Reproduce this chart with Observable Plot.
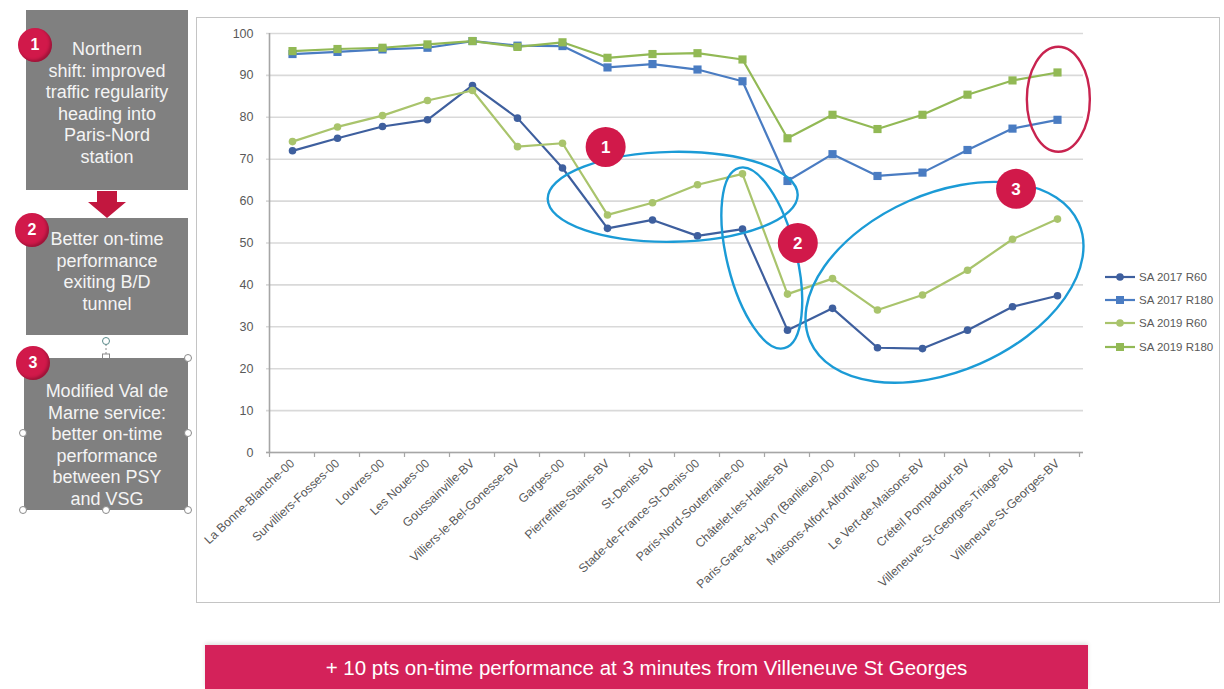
<!DOCTYPE html>
<html>
<head>
<meta charset="utf-8">
<script src="https://cdn.jsdelivr.net/npm/d3@7"></script>
<script src="https://cdn.jsdelivr.net/npm/@observablehq/plot@0.6"></script>
<style>
  html, body { margin: 0; padding: 0; background: #fff; }
  body { width: 1224px; height: 689px; overflow: hidden; position: relative; font-family: "Liberation Sans", Arial, sans-serif; }
  .box { position: absolute; left: 26px; width: 162px; background: #808080; }
  .boxtext { position: absolute; left: 22px; width: 170px; text-align: center; color: #f4f4f4; font-size: 18px; line-height: 21.5px; }
  .badge { position: absolute; width: 34px; height: 34px; border-radius: 50%; background: #d1194a; color: #fff; font-weight: bold; font-size: 16px; line-height: 34px; text-align: center; box-shadow: inset -2px -2px 3px rgba(0,0,0,0.25); }
  #frame { position: absolute; left: 196px; top: 17px; width: 1024px; height: 586px; box-sizing: border-box; border: 1.5px solid #c4c4c4; }
  #chart { position: absolute; left: 196px; top: 17px; width: 1024px; height: 586px; }
  #legend { position: absolute; left: 1104px; top: 265px; font-size: 11.5px; color: #595959; }
  .lrow { height: 23.3px; display: flex; align-items: center; }
  .lrow svg { margin-right: 3px; }
  #banner { position: absolute; left: 205px; top: 645px; width: 883px; height: 44px; background: #d4225a; color: #fff; font-size: 20.5px; text-align: center; line-height: 46px; box-shadow: 0 -2px 4px rgba(0,0,0,0.12); }
  .handle { position: absolute; width: 6px; height: 6px; border-radius: 50%; background: #fff; border: 1px solid #8a8a8a; }
</style>
</head>
<body>
<!-- Left explanatory panel -->
<div class="box" style="top:10px;height:180px;"></div>
<div class="boxtext" style="top:39px;">Northern<br>shift: improved<br>traffic regularity<br>heading into<br>Paris-Nord<br>station</div>
<div class="badge" style="left:18px;top:28px;">1</div>

<svg style="position:absolute;left:86px;top:191px" width="42" height="28">
  <polygon points="11,0 31,0 31,11 40,11 21,27 2,11 11,11" fill="#c2173f"/>
</svg>

<div class="box" style="top:218px;height:117px;"></div>
<div class="boxtext" style="top:229px;">Better on-time<br>performance<br>exiting B/D<br>tunnel</div>
<div class="badge" style="left:15px;top:213px;">2</div>

<svg style="position:absolute;left:100px;top:336px" width="12" height="26">
  <line x1="6" y1="8" x2="6" y2="20" stroke="#8a8a8a" stroke-dasharray="2,2"/>
  <circle cx="6" cy="5" r="3.5" fill="#fff" stroke="#5a8a8a"/>
  <rect x="2.5" y="18" width="7" height="6" fill="#fff" stroke="#8a8a8a"/>
</svg>
<div class="box" style="top:358px;height:152px;left:24px;width:164px;"></div>
<div class="boxtext" style="top:381px;">Modified Val de<br>Marne service:<br>better on-time<br>performance<br>between PSY<br>and VSG</div>
<div class="handle" style="left:19px;top:506px"></div>
<div class="handle" style="left:102px;top:506px"></div>
<div class="handle" style="left:184px;top:506px"></div>
<div class="handle" style="left:19px;top:429px"></div>
<div class="handle" style="left:184px;top:429px"></div>
<div class="handle" style="left:184px;top:354px"></div>
<div class="badge" style="left:16px;top:346px;">3</div>

<div id="frame"></div>
<div id="chart"></div>
<div id="legend"></div>
<div id="banner">+ 10 pts on-time performance at 3 minutes from Villeneuve St Georges</div>

<script>
// ---------- data ----------
const categories = [
  "La Bonne-Blanche-00",
  "Survilliers-Fosses-00",
  "Louvres-00",
  "Les Noues-00",
  "Goussainville-BV",
  "Villiers-le-Bel-Gonesse-BV",
  "Garges-00",
  "Pierrefitte-Stains-BV",
  "St-Denis-BV",
  "Stade-de-France-St-Denis-00",
  "Paris-Nord-Souterraine-00",
  "Châtelet-les-Halles-BV",
  "Paris-Gare-de-Lyon (Banlieue)-00",
  "Maisons-Alfort-Alfortville-00",
  "Le Vert-de-Maisons-BV",
  "Créteil Pompadour-BV",
  "Villeneuve-St-Georges-Triage-BV",
  "Villeneuve-St-Georges-BV"
];
const sa2017R60  = [72.0, 75.0, 77.8, 79.4, 87.6, 79.8, 67.9, 53.5, 55.5, 51.7, 53.3, 29.2, 34.4, 25.0, 24.8, 29.2, 34.8, 37.4];
const sa2017R180 = [95.1, 95.6, 96.2, 96.6, 98.2, 97.1, 97.0, 91.9, 92.7, 91.4, 88.6, 64.8, 71.2, 66.0, 66.8, 72.2, 77.3, 79.4];
const sa2019R60  = [74.2, 77.7, 80.4, 84.0, 86.4, 73.0, 73.8, 56.7, 59.6, 63.9, 66.5, 37.8, 41.5, 34.0, 37.6, 43.5, 50.9, 55.7];
const sa2019R180 = [95.8, 96.3, 96.6, 97.4, 98.2, 96.8, 97.9, 94.2, 95.1, 95.3, 93.8, 75.0, 80.6, 77.2, 80.6, 85.4, 88.8, 90.7];

const seriesNames   = ["SA 2017 R60", "SA 2017 R180", "SA 2019 R60", "SA 2019 R180"];
const seriesValues  = [sa2017R60, sa2017R180, sa2019R60, sa2019R180];
const seriesColors  = ["#3e5f9e", "#4a7cc2", "#a9c46c", "#92b955"];
const seriesSymbols = ["circle", "square", "circle", "square"];
const yTicks = [0, 10, 20, 30, 40, 50, 60, 70, 80, 90, 100];

// annotations (position = fractional station index, value = y value)
const ellipseNotes = [
  {pos: 8.46,  value: 60.9, rx: 125,   ry: 45,   rotate: -1,    color: "#1b9bd6"},
  {pos: 10.44, value: 46.3, rx: 34.6,  ry: 92.9, rotate: -14,   color: "#1b9bd6"},
  {pos: 14.50, value: 40.5, rx: 146.7, ry: 88.8, rotate: -23.7, color: "#1b9bd6"},
  {pos: 17.03, value: 84.2, rx: 31.5,  ry: 52.5, rotate: 0,     color: "#c8234f"}
];
const badgeNotes = [
  {label: "1", pos: 6.97,  value: 72.8},
  {label: "2", pos: 11.24, value: 49.9},
  {label: "3", pos: 16.09, value: 62.8}
];

// ---------- table ----------
const rows = seriesNames.flatMap((s, k) =>
  categories.map((c, i) => ({series: s, station: c, value: seriesValues[k][i], symbol: seriesSymbols[k]}))
);

const font = "'Liberation Sans', Arial, sans-serif";
const plot = Plot.plot({
  width: 1024,
  height: 586,
  marginLeft: 70,
  marginRight: 137,
  marginTop: 16,
  marginBottom: 151,
  style: {fontFamily: font, fontSize: "12px", color: "#595959", background: "transparent", overflow: "visible"},
  x: {type: "point", domain: categories, padding: 0.5, label: null},
  y: {domain: [0, 100], ticks: yTicks, label: null},
  color: {domain: seriesNames, range: seriesColors},
  marks: [
    Plot.gridY(yTicks, {stroke: "#d9d9d9", strokeOpacity: 1, strokeWidth: 1.6}),
    Plot.axisY(yTicks, {tickSize: 0, tickPadding: 13, fontSize: 12.5, fill: "#595959"}),
    Plot.axisX({tickSize: 0, tickPadding: 9, tickRotate: -43, fontSize: 12.2, fill: "#595959"}),
    Plot.ruleY([0], {stroke: "#a6a6a6", strokeWidth: 1.6}),
    Plot.line(rows, {x: "station", y: "value", z: "series", stroke: "series", strokeWidth: 2.2}),
    Plot.dot(rows.filter(d => d.symbol === "circle"), {x: "station", y: "value", fill: "series", symbol: "circle", r: 3.8}),
    Plot.dot(rows.filter(d => d.symbol === "square"), {x: "station", y: "value", fill: "series", symbol: "square", r: 4.6})
  ]
});
document.getElementById("chart").appendChild(plot);

// ---------- axis line, ticks and annotations from the scales ----------
const xs = plot.scale("x"), ys = plot.scale("y");
const step = xs.step;
const x0 = xs.apply(categories[0]) - step / 2;
const px = p => x0 + (p + 0.5) * step;
const svg = d3.select(plot);
const g = svg.append("g");
g.append("line").attr("x1", x0).attr("x2", x0).attr("y1", ys.apply(0)).attr("y2", ys.apply(100))
  .attr("stroke", "#a6a6a6").attr("stroke-width", 1.6);
g.selectAll("line.tk").data(d3.range(categories.length + 1)).join("line")
  .attr("class", "tk")
  .attr("x1", k => x0 + k * step).attr("x2", k => x0 + k * step)
  .attr("y1", ys.apply(0)).attr("y2", ys.apply(0) + 5)
  .attr("stroke", "#a6a6a6").attr("stroke-width", 1.2);

g.selectAll("ellipse").data(ellipseNotes).join("ellipse")
  .attr("cx", 0).attr("cy", 0).attr("rx", d => d.rx).attr("ry", d => d.ry)
  .attr("transform", d => `translate(${px(d.pos)},${ys.apply(d.value)}) rotate(${d.rotate})`)
  .attr("fill", "none").attr("stroke", d => d.color).attr("stroke-width", 2.4);

const bg = g.selectAll("g.badge").data(badgeNotes).join("g")
  .attr("transform", d => `translate(${px(d.pos)},${ys.apply(d.value)})`);
bg.append("circle").attr("r", 20).attr("fill", "#d1194a");
bg.append("text").text(d => d.label).attr("text-anchor", "middle").attr("dy", "0.36em")
  .attr("fill", "#fff").attr("font-size", 17).attr("font-weight", "bold").attr("font-family", font);

// ---------- legend ----------
const legend = d3.select("#legend");
seriesNames.forEach((s, k) => {
  const row = legend.append("div").attr("class", "lrow");
  const sw = row.append("svg").attr("width", 32).attr("height", 12);
  sw.append("line").attr("x1", 1).attr("x2", 31).attr("y1", 6).attr("y2", 6)
    .attr("stroke", seriesColors[k]).attr("stroke-width", 2.2);
  if (seriesSymbols[k] === "circle") sw.append("circle").attr("cx", 16).attr("cy", 6).attr("r", 3.8).attr("fill", seriesColors[k]);
  else sw.append("rect").attr("x", 12).attr("y", 2).attr("width", 8).attr("height", 8).attr("fill", seriesColors[k]);
  row.append("span").text(s);
});
</script>
</body>
</html>
